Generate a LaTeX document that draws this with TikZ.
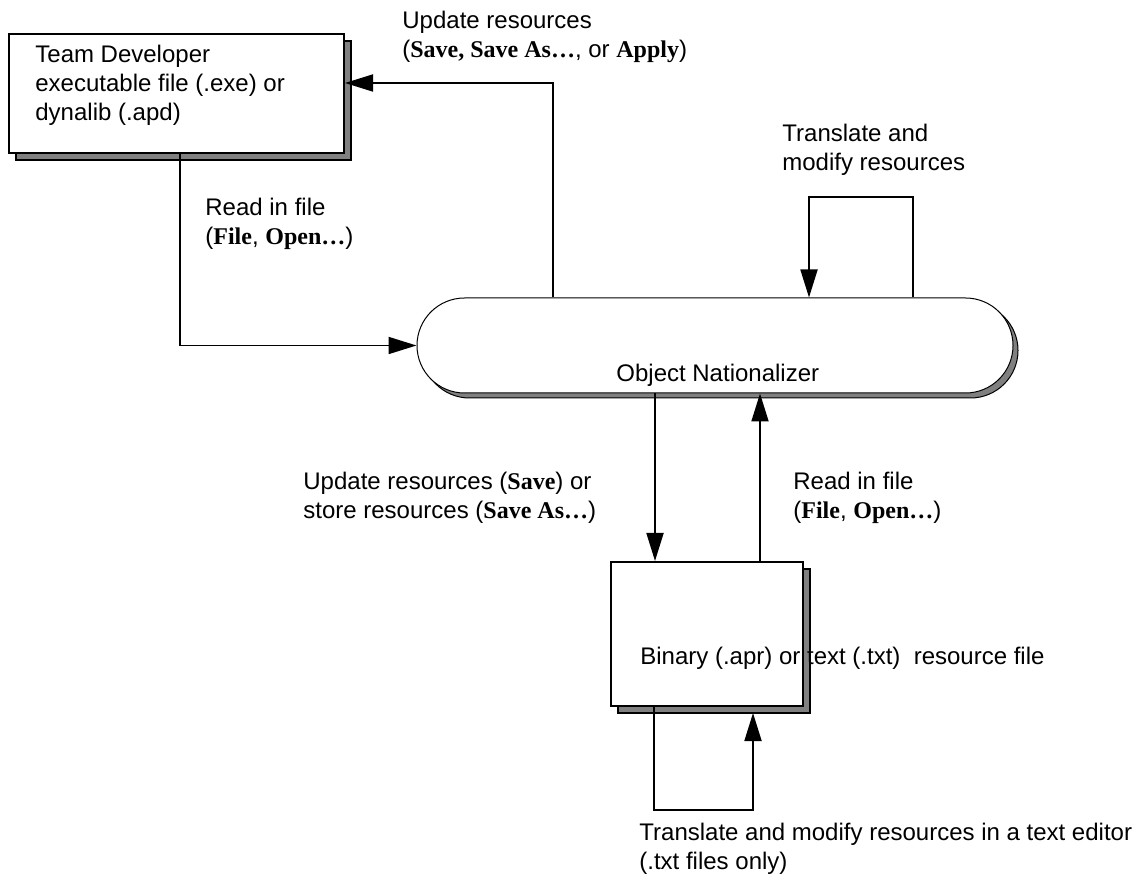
\documentclass[tikz,border=0pt]{standalone}
\usepackage{fontspec}
\setmainfont{Liberation Sans}
\newfontfamily\menufont{Liberation Serif}
\usetikzlibrary{arrows.meta,shapes.misc,shadows}
\newcommand{\menu}[1]{{\menufont\bfseries #1}}
\tikzset{
    docbox/.style={rectangle,draw=black,fill=white,line width=1pt,inner sep=0pt,
        copy shadow={shadow xshift=3.5pt,shadow yshift=-3.5pt,fill=gray,draw=black,line width=1pt}},
    toolpill/.style={rounded rectangle,draw=black,fill=white,line width=0.5pt,inner sep=0pt,
        minimum width=298pt,minimum height=47.5pt,
        copy shadow={shadow xshift=2.5pt,shadow yshift=-2.5pt,fill=gray,draw=black,line width=0.5pt}},
    flow/.style={line width=0.9pt,draw=black,-{Triangle[length=14pt,width=8.5pt]}},
    lbl/.style={anchor=base west,align=left,inner sep=0pt},
    every node/.style={font=\fontsize{12}{14.5}\selectfont}
}
\begin{document}
\begin{tikzpicture}[x=0.5pt,y=-0.5pt]
  \useasboundingbox (0,0) rectangle (1145,886);
  % boxes
  \node[docbox,minimum width=167.5pt,minimum height=59.5pt] (teamdev) at (176.5,93.5) {};
  \node[docbox,minimum width=96pt,minimum height=72pt] (binfile) at (707,634) {};
  \node[toolpill] (objnat) at (715,345.5) {};
  % texts (base = last line)
  \node[lbl] (teamtxt) at (35,121) {Team Developer\\executable file (.exe) or\\dynalib (.apd)};
  \node[lbl] (objtxt) at (616,382) {Object Nationalizer};
  \node[lbl] (bintxt) at (640,665) {Binary (.apr) or text (.txt)\ \ resource file};
  % bend points
  \coordinate (upd) at (553,83);
  \coordinate (rd) at (180,346);
  \coordinate (tl) at (809,197);
  \coordinate (tr) at (913,197);
  \coordinate (dn) at (655,450);
  \coordinate (up) at (760,450);
  \coordinate (bl) at (654,810);
  \coordinate (br) at (753,810);
  \coordinate (bt) at (753,713);
  % connectors
  \draw[flow] (objnat.north -| upd) |- (teamdev.east |- upd);
  \draw[flow] (teamdev.south -| rd) |- (objnat.west);
  \draw[flow] (objnat.north -| tr) -- (tr) -- (tl) -- (objnat.north -| tl);
  \draw[flow] (objnat.south -| dn) -- (binfile.north -| dn);
  \draw[flow] (binfile.north -| up) -- (objnat.south -| up);
  \draw[flow] (binfile.south -| bl) -- (bl) -- (br) -- (bt);
  % labels
  \node[lbl] (updlbl) at (402,58) {Update resources\\(\menu{Save, Save As\ldots}, or \menu{Apply})};
  \node[lbl] (readlbl) at (205,245) {Read in file\\(\menu{File}, \menu{Open\ldots})};
  \node[lbl] (translbl) at (782,171) {Translate and\\modify resources};
  \node[lbl] (savelbl) at (303,519) {Update resources (\menu{Save}) or\\store resources (\menu{Save As\ldots})};
  \node[lbl] (openlbl) at (793,519) {Read in file\\(\menu{File}, \menu{Open\ldots})};
  \node[lbl] (editlbl) at (639,869) {Translate and modify resources in a text editor\\(.txt files only)};
\end{tikzpicture}
\end{document}
